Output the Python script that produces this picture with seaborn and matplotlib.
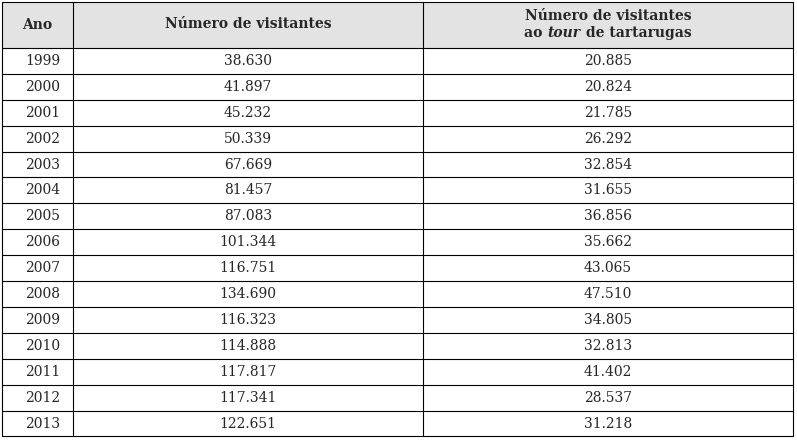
import matplotlib
matplotlib.use("Agg")
import matplotlib.pyplot as plt
import seaborn as sns

sns.set_style("white")
plt.rcParams['font.family'] = ['DejaVu Serif', 'Liberation Serif']

years = [1999, 2000, 2001, 2002, 2003, 2004, 2005, 2006, 2007, 2008, 2009, 2010, 2011, 2012, 2013]
visitors = ["38.630", "41.897", "45.232", "50.339", "67.669", "81.457", "87.083", "101.344",
            "116.751", "134.690", "116.323", "114.888", "117.817", "117.341", "122.651"]
tour = ["20.885", "20.824", "21.785", "26.292", "32.854", "31.655", "36.856", "35.662",
        "43.065", "47.510", "34.805", "32.813", "41.402", "28.537", "31.218"]

fig = plt.figure(figsize=(7.97, 4.40), dpi=100)
ax = fig.add_axes([0, 0, 1, 1])
ax.set_xlim(0, 797)
ax.set_ylim(440, 0)
ax.axis("off")

xs = [2, 73, 423, 793]
top, hb, rh = 2, 48, 25.9
bottom = hb + rh * len(years)
ax.add_patch(plt.Rectangle((xs[0], top), xs[-1] - xs[0], hb - top, color="#e3e3e3", lw=0))
for x in xs:
    ax.plot([x, x], [top, bottom], color="black", lw=0.8)
for y in [top, hb] + [hb + rh * (i + 1) for i in range(len(years))]:
    ax.plot([xs[0], xs[-1]], [y, y], color="black", lw=0.8)

fs = 10
hy = (top + hb) / 2
ax.text((xs[0] + xs[1]) / 2, hy, "Ano", ha="center", va="center", fontsize=fs, weight="bold")
ax.text((xs[1] + xs[2]) / 2, 24, "Número de visitantes", ha="center", va="center", fontsize=fs, weight="bold")
cx = (xs[2] + xs[3]) / 2
ax.text(cx, 16, "Número de visitantes", ha="center", va="center", fontsize=fs, weight="bold")
fig.canvas.draw()
r = fig.canvas.get_renderer()
parts = [("ao ", "normal"), ("tour", "italic"), (" de tartarugas", "normal")]
ts = [ax.text(0, 33, s, fontsize=fs, weight="bold", style=st, va="center") for s, st in parts]
ws = [t.get_window_extent(r).width for t in ts]
x0 = cx - sum(ws) / 2
for t, w in zip(ts, ws):
    t.set_x(x0)
    x0 += w

for i, (yr, v, t) in enumerate(zip(years, visitors, tour)):
    y = hb + rh * (i + 0.5)
    ax.text(43, y, str(yr), ha="center", va="center", fontsize=fs)
    ax.text((xs[1] + xs[2]) / 2, y, v, ha="center", va="center", fontsize=fs)
    ax.text(cx, y, t, ha="center", va="center", fontsize=fs)

fig.savefig("out.png", dpi=100)
